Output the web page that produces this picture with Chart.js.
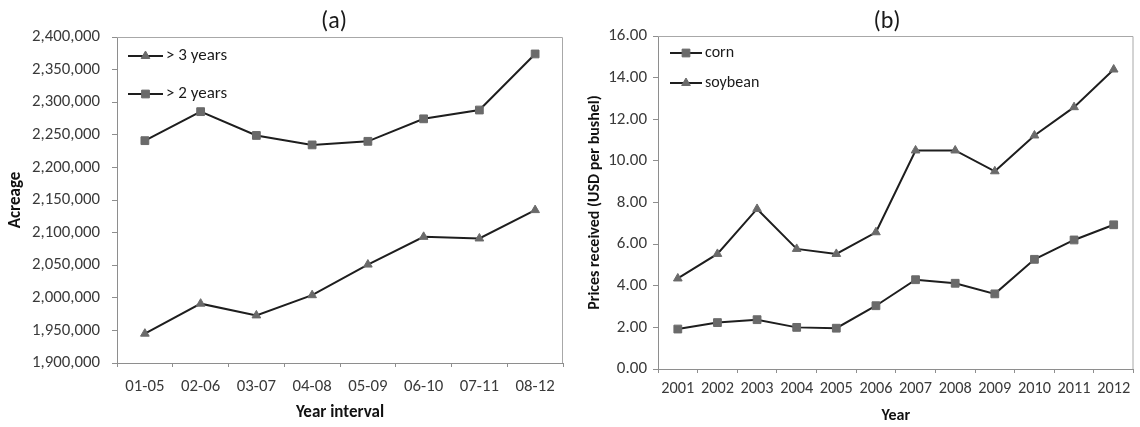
<!DOCTYPE html>
<html>
<head>
<meta charset="utf-8">
<script src="https://cdn.jsdelivr.net/npm/chart.js@4.4.0/dist/chart.umd.min.js"></script>
<style>
    html, body { margin: 0; padding: 0; background: #fff; }
    #wrap { position: relative; width: 1140px; height: 427px; }
    .panel { position: absolute; top: 0; width: 570px; height: 427px; }
    #panelA { left: 0; }
    #panelB { left: 570px; }
</style>
</head>
<body>
<div id="wrap">
    <div class="panel" id="panelA"><canvas id="chartA" width="570" height="427"></canvas></div>
    <div class="panel" id="panelB"><canvas id="chartB" width="570" height="427"></canvas></div>
</div>
<script>
// (a) acreage by 5-year interval
const intervals = ['01-05', '02-06', '03-07', '04-08', '05-09', '06-10', '07-11', '08-12'];
const over3Years = [1945000, 1991000, 1973000, 2004000, 2051000, 2093500, 2091000, 2134500];
const over2Years = [2241000, 2285500, 2249000, 2234500, 2240000, 2274500, 2288000, 2374000];
const acreageTicks = [1900000, 1950000, 2000000, 2050000, 2100000, 2150000, 2200000, 2250000, 2300000, 2350000, 2400000];

// (b) prices received, USD per bushel
const years = ['2001', '2002', '2003', '2004', '2005', '2006', '2007', '2008', '2009', '2010', '2011', '2012'];
const cornPrice = [1.92, 2.23, 2.37, 2.00, 1.96, 3.04, 4.29, 4.12, 3.61, 5.27, 6.20, 6.93];
const soybeanPrice = [4.35, 5.53, 7.69, 5.77, 5.53, 6.57, 10.50, 10.50, 9.50, 11.22, 12.58, 14.39];
const priceTicks = [0, 2, 4, 6, 8, 10, 12, 14, 16];

const FONT = 'Carlito, "Open Sans", sans-serif';
const AXIS_GREY = '#8e8e8e';
const TICK_TEXT = '#3a3a3a';
const LINE_BLACK = '#1e1e1e';
const MARK_GREY = '#6a6a6a';

// plot frame, panel title and inline legend
const panelDeco = {
    id: 'panelDeco',
    afterDraw(chart, args, opts) {
        const { ctx, chartArea: a } = chart;
        ctx.save();
        ctx.strokeStyle = '#a8a8a8';
        ctx.lineWidth = 1;
        ctx.beginPath();
        ctx.moveTo(a.left, a.top + 0.5);
        ctx.lineTo(a.right - 0.5, a.top + 0.5);
        ctx.lineTo(a.right - 0.5, a.bottom);
        ctx.stroke();

        ctx.fillStyle = '#1a1a1a';
        ctx.font = '24px ' + FONT;
        ctx.textAlign = 'center';
        ctx.textBaseline = 'middle';
        ctx.fillText(opts.title, opts.titleX, opts.titleY);

        const lg = opts.legend;
        ctx.textAlign = 'left';
        ctx.font = lg.size + 'px ' + FONT;
        lg.order.forEach((dsIndex, row) => {
            const ds = chart.data.datasets[dsIndex];
            const y = lg.y[row];
            ctx.strokeStyle = ds.borderColor;
            ctx.lineWidth = 2;
            ctx.beginPath();
            ctx.moveTo(lg.x0, y);
            ctx.lineTo(lg.x1, y);
            ctx.stroke();
            ctx.fillStyle = ds.pointBackgroundColor;
            ctx.strokeStyle = ds.pointBorderColor;
            ctx.lineWidth = 1;
            Chart.helpers.drawPoint(ctx, { pointStyle: ds.pointStyle, radius: ds.pointRadius, rotation: 0, borderWidth: 1 }, (lg.x0 + lg.x1) / 2, y);
            ctx.fillStyle = '#1a1a1a';
            ctx.fillText(ds.label, lg.textX, y);
        });
        ctx.restore();
    }
};

function lineSet(label, data, style, radius) {
    return {
        label: label,
        data: data,
        borderColor: LINE_BLACK,
        borderWidth: 2,
        tension: 0,
        fill: false,
        pointStyle: style,
        pointRadius: radius,
        pointBackgroundColor: MARK_GREY,
        pointBorderColor: MARK_GREY,
        pointBorderWidth: 1
    };
}

function xAxis(titleText, fontSize, tickPad, height, titleSize, titlePadBottom) {
    return {
        type: 'category',
        offset: true,
        grid: { drawOnChartArea: false, drawTicks: true, tickLength: 4, color: AXIS_GREY, offset: true },
        border: { color: AXIS_GREY, width: 1 },
        ticks: { padding: tickPad, color: TICK_TEXT, font: { family: FONT, size: fontSize }, maxRotation: 0, autoSkip: false },
        title: { display: true, text: titleText, color: '#111', font: { family: FONT, size: titleSize, weight: 'bold' }, padding: { top: 0, bottom: titlePadBottom } },
        afterFit: (s) => { s.height = height; }
    };
}

function yAxis(tickValues, fmt, fontSize, titleText, titleSize, titlePadTop, tickPad, width) {
    return {
        min: tickValues[0],
        max: tickValues[tickValues.length - 1],
        afterBuildTicks: (s) => { s.ticks = tickValues.map(v => ({ value: v })); },
        grid: { drawOnChartArea: false, drawTicks: true, tickLength: 5, color: AXIS_GREY },
        border: { color: AXIS_GREY, width: 1 },
        ticks: { padding: tickPad, color: TICK_TEXT, font: { family: FONT, size: fontSize }, callback: fmt },
        title: { display: true, text: titleText, color: '#111', font: { family: FONT, size: titleSize, weight: 'bold' }, padding: { top: titlePadTop, bottom: 0 } },
        afterFit: (s) => { s.width = width; }
    };
}

new Chart(document.getElementById('chartA'), {
    type: 'line',
    data: {
        labels: intervals,
        datasets: [
            lineSet('> 3 years', over3Years, 'triangle', 5),
            lineSet('> 2 years', over2Years, 'rect', 5.5)
        ]
    },
    options: {
        responsive: false,
        animation: false,
        devicePixelRatio: 1,
        layout: { padding: { top: 37, right: 7, bottom: 0, left: 0 } },
        plugins: {
            legend: { display: false },
            tooltip: { enabled: false },
            panelDeco: {
                title: '(a)', titleX: 334, titleY: 22,
                legend: { order: [0, 1], x0: 128, x1: 163, textX: 166, y: [56, 94], size: 17 }
            }
        },
        scales: {
            x: xAxis('Year interval', 16.8, 9.9, 64, 17, 3.8),
            y: yAxis(acreageTicks, v => v.toLocaleString('en-US'), 16.8, 'Acreage', 17, 5.8, 12, 117)
        }
    },
    plugins: [panelDeco]
});

new Chart(document.getElementById('chartB'), {
    type: 'line',
    data: {
        labels: years,
        datasets: [
            lineSet('corn', cornPrice, 'rect', 5.5),
            lineSet('soybean', soybeanPrice, 'triangle', 5)
        ]
    },
    options: {
        responsive: false,
        animation: false,
        devicePixelRatio: 1,
        layout: { padding: { top: 36, right: 2, bottom: 0, left: 0 } },
        plugins: {
            legend: { display: false },
            tooltip: { enabled: false },
            panelDeco: {
                title: '(b)', titleX: 317, titleY: 22,
                legend: { order: [0, 1], x0: 100, x1: 132, textX: 135, y: [53, 83], size: 16 }
            }
        },
        scales: {
            x: xAxis('Year', 16.3, 6.2, 58, 16, 1.8),
            y: yAxis(priceTicks, v => Number(v).toFixed(2), 17, 'Prices received (USD per bushel)', 16, 15.4, 6, 88)
        }
    },
    plugins: [panelDeco]
});
</script>
</body>
</html>
